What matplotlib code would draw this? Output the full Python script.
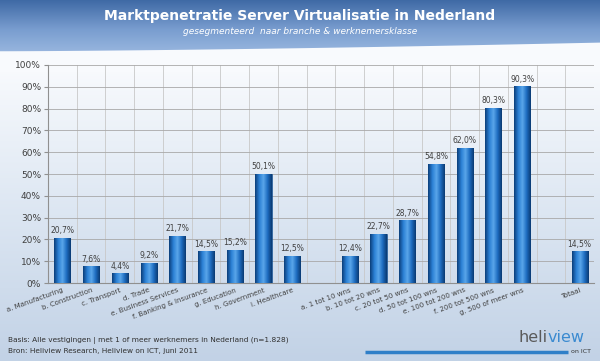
import numpy as np
import matplotlib.pyplot as plt
from matplotlib.colors import LinearSegmentedColormap
from matplotlib.patches import Polygon

# categorieën (lege strings = lege kolom)
labels = ["a. Manufacturing", "b. Construction", "c. Transport", "d. Trade",
          "e. Business Services", "f. Banking & Insurance", "g. Education",
          "h. Government", "i. Healthcare", "",
          "a. 1 tot 10 wns", "b. 10 tot 20 wns", "c. 20 tot 50 wns",
          "d. 50 tot 100 wns", "e. 100 tot 200 wns", "f. 200 tot 500 wns",
          "g. 500 of meer wns", "", "Totaal"]
values = [20.7, 7.6, 4.4, 9.2, 21.7, 14.5, 15.2, 50.1, 12.5, None,
          12.4, 22.7, 28.7, 54.8, 62.0, 80.3, 90.3, None, 14.5]
yticks = [0, 10, 20, 30, 40, 50, 60, 70, 80, 90, 100]

fig = plt.figure(figsize=(6, 3.61), dpi=100)

# achtergrond
bg = fig.add_axes([0, 0, 1, 1], zorder=-10)
bg.set_xlim(0, 1)
bg.set_ylim(0, 1)
bg.axis("off")
body = LinearSegmentedColormap.from_list("body", ["#c2d2e6", "#dce6f2", "#f8fafd"])
head = LinearSegmentedColormap.from_list("head", ["#a3bfe4", "#7a9ed0", "#3d68a4"])
bg.imshow(np.linspace(0, 1, 256).reshape(-1, 1), cmap=head, origin="lower",
          extent=[0, 1, 0.83, 1], aspect="auto")
xs = np.linspace(0, 1, 100)
curve = 0.858 + 0.024 * xs ** 1.5
white = Polygon(np.column_stack([np.r_[xs, 1, 0], np.r_[curve, 0.80, 0.80]]),
                closed=True, fc="#f8fafd", ec="none")
bg.add_patch(white)
bg.imshow(np.linspace(0, 1, 256).reshape(-1, 1), cmap=body, origin="lower",
          extent=[0, 1, 0, 0.81], aspect="auto")

fig.text(0.5, 0.955, "Marktpenetratie Server Virtualisatie in Nederland",
         ha="center", va="center", color="white", fontsize=10, fontweight="bold")
fig.text(0.5, 0.912, "gesegmenteerd  naar branche & werknemersklasse",
         ha="center", va="center", color="white", fontsize=6.5, style="italic")

ax = fig.add_axes([0.08, 0.216, 0.91, 0.604])
ax.patch.set_alpha(0)
x = np.arange(len(labels))
hv = [v if v is not None else 0 for v in values]
bars = ax.bar(x, hv, width=0.56, color="#1a6cc0", edgecolor="#0b3f7a",
              linewidth=0.4, zorder=3)

cyl = LinearSegmentedColormap.from_list(
    "cyl", ["#0b3f7a", "#2a7fd4", "#5aa6ea", "#1d6cc0", "#0a3a72"])
grad = np.linspace(0, 1, 64).reshape(1, -1)
for b, v in zip(bars, values):
    if v is None:
        b.set_visible(False)
        continue
    im = ax.imshow(grad, cmap=cyl, aspect="auto", zorder=3.5,
                   extent=[b.get_x(), b.get_x() + b.get_width(), 0, v])
    im.set_clip_path(b)
    ax.text(b.get_x() + b.get_width() / 2, v + 1.2, f"{v:.1f}%".replace(".", ","),
            ha="center", va="bottom", fontsize=5.5, color="#404040", zorder=5)

ax.set_xlim(-0.5, len(labels) - 0.5)
ax.set_ylim(0, 100)
ax.set_yticks(yticks)
ax.set_yticklabels([f"{t}%" for t in yticks], fontsize=6.5, color="#404040")
ax.set_xticks(x)
ax.set_xticklabels(labels, rotation=20, ha="right", rotation_mode="anchor",
                   fontsize=5, color="#404040")
ax.tick_params(axis="x", length=0, pad=3)
ax.tick_params(axis="y", length=3, color="#909090", pad=2)
ax.set_xticks(np.arange(-0.5, len(labels), 1), minor=True)
ax.tick_params(axis="x", which="minor", length=0)
ax.grid(axis="y", color="#a8a8a8", linewidth=0.6, zorder=0)
ax.grid(axis="x", which="minor", color="#c8c8c8", linewidth=0.6, zorder=0)
for s in ["top", "right"]:
    ax.spines[s].set_visible(False)
ax.spines["left"].set_color("#909090")
ax.spines["bottom"].set_color("#909090")
ax.set_axisbelow(True)

fig.text(0.013, 0.058, "Basis: Alle vestigingen | met 1 of meer werknemers in Nederland (n=1.828)",
         fontsize=5.3, color="#303030", va="center")
fig.text(0.013, 0.029, "Bron: Heliview Research, Heliview on ICT, juni 2011",
         fontsize=5.3, color="#303030", va="center")

fig.text(0.912, 0.066, "heli", fontsize=11.5, color="#5a5a5a", ha="right", va="center")
fig.text(0.912, 0.066, "view", fontsize=11.5, color="#3a8ad0", ha="left", va="center")
bg.plot([0.608, 0.947], [0.025, 0.025], color="#2f7fc8", linewidth=2.5,
        solid_capstyle="butt")
fig.text(0.952, 0.025, "on ICT", fontsize=4.5, color="#303030", va="center")

fig.savefig("out.png", dpi=100)
